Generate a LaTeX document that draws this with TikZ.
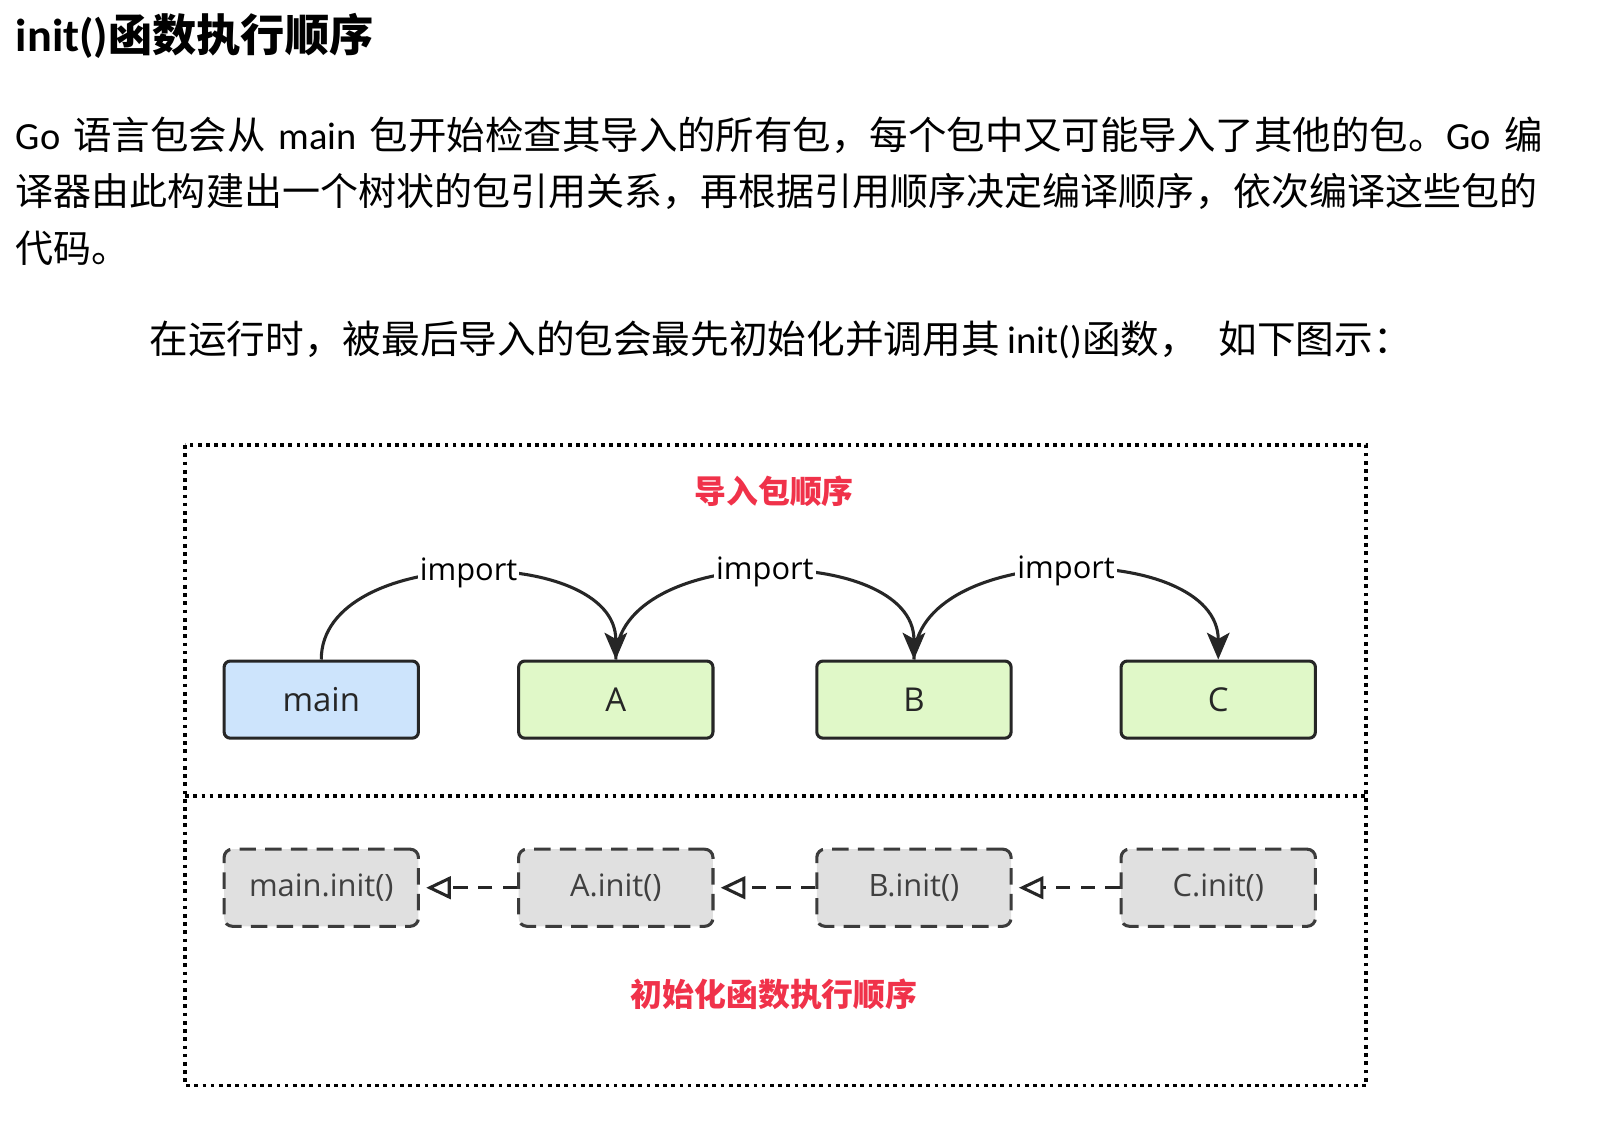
\documentclass[tikz,border=0pt]{standalone}
\usepackage{fontspec}
\setmainfont{Carlito}
\newfontfamily\zh{Noto Sans CJK SC}
\newfontfamily\hand{Open Sans}
\usetikzlibrary{arrows.meta,positioning}
\XeTeXlinebreaklocale "zh"
\XeTeXlinebreakskip=0pt plus 2pt minus 0.5pt
\definecolor{pkgblue}{HTML}{CDE4FC}
\definecolor{pkggreen}{HTML}{E0F8C8}
\definecolor{initgray}{HTML}{E0E0E0}
\definecolor{edge}{HTML}{262626}
\definecolor{tagred}{HTML}{F0324A}
\tikzset{
  pkg/.style={draw=edge, line width=1.5pt, rounded corners=3pt, minimum width=94.5pt,
    minimum height=37.5pt, font=\hand\fontsize{16pt}{18pt}\selectfont, text=black!85},
  initbox/.style={draw=edge!90, line width=1.5pt, dash pattern=on 8pt off 4.5pt,
    rounded corners=4pt, fill=initgray, minimum width=94.5pt, minimum height=37.5pt,
    font=\hand\fontsize{15pt}{17pt}\selectfont, text=black!75},
  importline/.style={draw=edge, line width=1.5pt, -{Stealth[length=13pt,width=11pt,inset=3pt]}},
  initline/.style={draw=edge, line width=1.5pt, dash pattern=on 7pt off 5pt,
    -{Triangle[open,length=12pt,width=11pt]}},
  tag/.style={fill=white, inner sep=1pt, font=\hand\fontsize{15pt}{17pt}\selectfont},
  order/.style={text=tagred, font=\zh\bfseries\fontsize{15.5pt}{17pt}\selectfont},
  para/.style={anchor=base west, inner sep=0pt, font=\fontsize{18.5pt}{22pt}\selectfont},
  frame/.style={line width=1.8pt, dash pattern=on 1.8pt off 2.2pt}
}

\begin{document}
\begin{tikzpicture}[x=0.5pt, y=-0.5pt]
  \useasboundingbox (0,0) rectangle (1568,1107);

  \node[anchor=base west, inner sep=0pt, font=\fontsize{22.5pt}{24pt}\selectfont\bfseries] (title) at (15,50)
    {init(){\zh\fontsize{21.5pt}{24pt}\selectfont 函数执行顺序}};
  \node[para, font=\fontsize{18.7pt}{22pt}\selectfont] (line1) at (15,145) {\makebox[742.5pt][s]{Go {\zh 语言包会从} main {\zh 包开始检查其导入的所有包，每个包中又可能导入了其他的包。}Go {\zh 编}}};
  \node[para] (line2) at (15,200) {\makebox[742.5pt][s]{\zh 译器由此构建出一个树状的包引用关系，再根据引用顺序决定编译顺序，依次编译这些包的}};
  \node[para] (line3) at (15,255) {\zh 代码。};
  \node[para, font=\fontsize{18.8pt}{22pt}\selectfont] (line4) at (145,344) {\makebox[614pt][s]{{\zh 在运行时，被最后导入的包会最先初始化并调用其} init(){\zh 函数，}\hspace{10pt plus 1fil}{\zh 如下图示：}}};

  \draw[frame] (180,433) rectangle (1329,1056);
  \draw[frame] (180,774) -- (1329,774);

  \node[order] (importorder) at (753,478) {导入包顺序};
  \node[order] (initorder) at (753,967) {初始化函数执行顺序};

  \node[pkg, fill=pkgblue] (main) at (312.5,680.5) {main};
  \node[pkg, fill=pkggreen] (A) at (599,680.5) {A};
  \node[pkg, fill=pkggreen] (B) at (889,680.5) {B};
  \node[pkg, fill=pkggreen] (C) at (1185,680.5) {C};

  \draw[importline] (main.north) to[out=90, in=90] node[tag] {import} (A.north);
  \draw[importline] (A.north) to[out=90, in=90] node[tag] {import} (B.north);
  \draw[importline] (B.north) to[out=90, in=90] node[tag] {import} (C.north);

  \node[initbox, below=52.5pt of main] (maininit) {main.init()};
  \node[initbox, below=52.5pt of A] (Ainit) {A.init()};
  \node[initbox, below=52.5pt of B] (Binit) {B.init()};
  \node[initbox, below=52.5pt of C] (Cinit) {C.init()};

  \draw[initline] (Ainit.west) -- ([xshift=3pt]maininit.east);
  \draw[initline] (Binit.west) -- ([xshift=3pt]Ainit.east);
  \draw[initline] (Cinit.west) -- ([xshift=3pt]Binit.east);
\end{tikzpicture}
\end{document}
